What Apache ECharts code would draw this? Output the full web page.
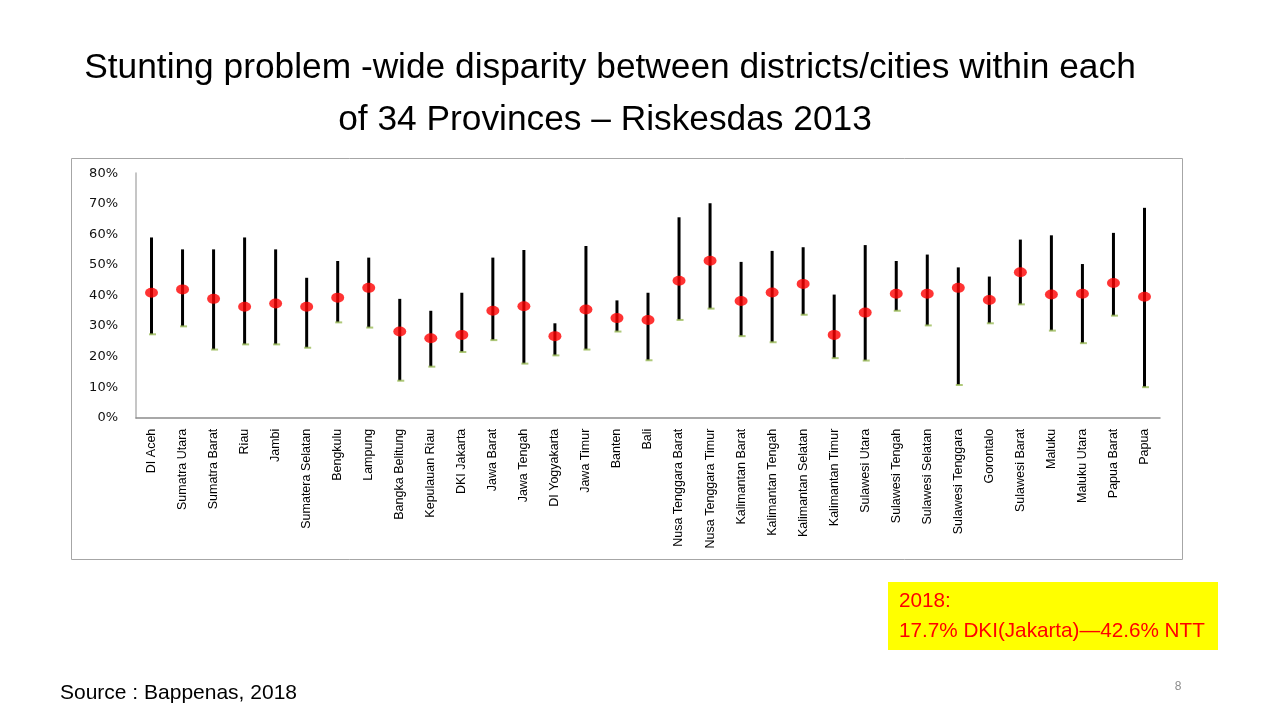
<!DOCTYPE html>
<html><head><meta charset="utf-8">
<script src="https://cdn.jsdelivr.net/npm/echarts@6/dist/echarts.min.js"></script>
<style>html,body{margin:0;padding:0;background:#fff}#c{width:1280px;height:720px}</style>
</head><body><div id="c"></div>
<script>
const provinces = ["DI Aceh","Sumatra Utara","Sumatra Barat","Riau","Jambi","Sumatera Selatan","Bengkulu","Lampung","Bangka Belitung","Kepulauan Riau","DKI Jakarta","Jawa Barat","Jawa Tengah","DI Yogyakarta","Jawa Timur","Banten","Bali","Nusa Tenggara Barat","Nusa Tenggara Timur","Kalimantan Barat","Kalimantan Tengah","Kalimantan Selatan","Kalimantan Timur","Sulawesi Utara","Sulawesi Tengah","Sulawesi Selatan","Sulawesi Tenggara","Gorontalo","Sulawesi Barat","Maluku","Maluku Utara","Papua Barat","Papua"];
const highValues = [59.0,55.1,55.1,59.0,55.1,45.8,51.3,52.4,38.9,35.0,40.9,52.4,54.9,30.9,56.2,38.4,40.9,65.6,70.2,51.0,54.6,55.8,40.3,56.5,51.3,53.4,49.2,46.2,58.3,59.7,50.3,60.5,68.7];
const meanValues = [40.9,42.0,38.9,36.3,37.4,36.3,39.3,42.5,28.2,26.0,27.1,35.0,36.5,26.7,35.4,32.6,32.0,44.8,51.4,38.2,41.0,43.8,27.1,34.4,40.6,40.6,42.5,38.5,47.6,40.3,40.6,44.1,39.6];
const lowValues = [27.3,29.9,22.3,24.0,24.0,22.9,31.2,29.5,12.1,16.7,21.5,25.4,17.7,20.4,22.3,28.2,18.8,32.0,35.7,26.7,24.7,33.7,19.5,18.7,35.0,30.2,10.7,30.9,37.1,28.5,24.4,33.4,10.0];
const yMin = 0, yMax = 80, yStep = 10;
const titleLines = ["Stunting problem -wide disparity between districts/cities within each", "of 34 Provinces \u2013 Riskesdas 2013"];
const noteLines = ["2018:", "17.7% DKI(Jakarta)\u201442.6% NTT"];
const sourceText = "Source : Bappenas, 2018";
const pageNumber = "8";

const chart = echarts.init(document.getElementById('c'), null, {renderer: 'canvas'});
const rangeData = provinces.map((p, i) => [i, lowValues[i], highValues[i]]);
const sans = "'Liberation Sans', Arial, sans-serif";

chart.setOption({
  animation: false,
  backgroundColor: '#fff',
  grid: {left: 136, right: 120, top: 173.3, bottom: 302.3, containLabel: false},
  xAxis: {
    type: 'category', data: provinces, boundaryGap: true,
    axisLine: {lineStyle: {color: '#8c8c8c', width: 1.5}},
    axisTick: {show: false},
    axisLabel: {rotate: 90, interval: 0, margin: 11, fontFamily: sans, fontSize: 12.5, color: '#000'},
    splitLine: {show: false}
  },
  yAxis: {
    type: 'value', min: yMin, max: yMax, interval: yStep,
    axisLine: {show: true, lineStyle: {color: '#c6c6c6', width: 2}},
    axisTick: {show: false},
    splitLine: {show: false},
    axisLabel: {formatter: '{value}%', margin: 18, fontFamily: "'DejaVu Sans', Verdana, sans-serif", fontSize: 13, color: '#111'}
  },
  series: [
    {
      type: 'custom',
      data: rangeData,
      encode: {x: 0, y: [1, 2]},
      renderItem: function (params, api) {
        const x = api.value(0);
        const p1 = api.coord([x, api.value(1)]);
        const p2 = api.coord([x, api.value(2)]);
        return {type: 'line', shape: {x1: p1[0], y1: p1[1], x2: p2[0], y2: p2[1]}, style: {stroke: '#000', lineWidth: 3}};
      },
      z: 2
    },
    {
      type: 'scatter', data: lowValues, symbol: 'rect', symbolSize: [7, 2], symbolOffset: [1, 0],
      itemStyle: {color: '#9bbb59'}, z: 3
    },
    {
      type: 'scatter', data: meanValues, symbol: 'circle', symbolSize: [13, 10],
      itemStyle: {color: '#ff0000'}, z: 4
    }
  ],
  graphic: [
    {type: 'rect', shape: {x: 71.5, y: 158.5, width: 1111, height: 401}, style: {fill: 'none', stroke: '#a6a6a6', lineWidth: 1}, z: -1},
    {type: 'text', x: 610, y: 68.5, style: {text: titleLines[0], font: "35.3px 'Liberation Sans', Arial, sans-serif", fill: '#000', textAlign: 'center', textVerticalAlign: 'middle'}},
    {type: 'text', x: 605, y: 120.5, style: {text: titleLines[1], font: "35.3px 'Liberation Sans', Arial, sans-serif", fill: '#000', textAlign: 'center', textVerticalAlign: 'middle'}},
    {type: 'rect', shape: {x: 888, y: 582, width: 330, height: 68}, style: {fill: '#ffff00'}},
    {type: 'text', x: 899, y: 601, style: {text: noteLines[0], font: "20.7px 'Liberation Sans', Arial, sans-serif", fill: '#ff0000', textAlign: 'left', textVerticalAlign: 'middle'}},
    {type: 'text', x: 899, y: 631, style: {text: noteLines[1], font: "20.7px 'Liberation Sans', Arial, sans-serif", fill: '#ff0000', textAlign: 'left', textVerticalAlign: 'middle'}},
    {type: 'text', x: 60, y: 693, style: {text: sourceText, font: "21px 'Liberation Sans', Arial, sans-serif", fill: '#000', textAlign: 'left', textVerticalAlign: 'middle'}},
    {type: 'text', x: 1178, y: 687, style: {text: pageNumber, font: "12px 'Liberation Sans', Arial, sans-serif", fill: '#8c8c8c', textAlign: 'center', textVerticalAlign: 'middle'}}
  ]
});
</script>
</body></html>
